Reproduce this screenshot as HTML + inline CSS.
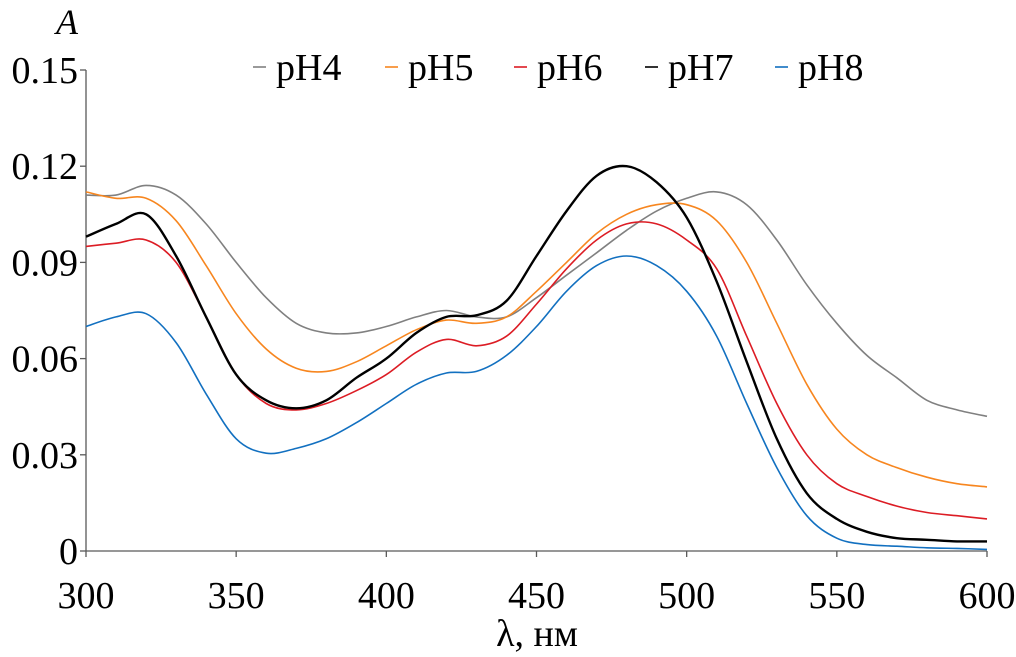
<!DOCTYPE html>
<html><head><meta charset="utf-8"><style>
html,body{margin:0;padding:0;background:#fff;width:1016px;height:657px;overflow:hidden}
svg text{font-family:"Liberation Serif","Times New Roman",Times,serif !important;fill:#000}
</style></head><body>
<svg id="chart" width="1016" height="657" viewBox="0 0 1016 657" xmlns="http://www.w3.org/2000/svg" font-family="Liberation Serif, serif"></svg>
<script>
const xTicks=[300,350,400,450,500,550,600];
const yTicks=[0,0.03,0.06,0.09,0.12,0.15];
const yTickLabels=["0","0.03","0.06","0.09","0.12","0.15"];
const seriesNames=["pH4","pH5","pH6","pH7","pH8"];
const seriesColors=["#808080","#f7861f","#dc1c24","#000000","#1270c0"];
const wl=[300,310,320,330,340,350,360,370,380,390,400,410,420,430,440,450,460,470,480,490,500,510,520,530,540,550,560,570,580,590,600];
const pH4=[0.111,0.111,0.114,0.111,0.102,0.090,0.079,0.071,0.068,0.068,0.070,0.073,0.075,0.073,0.073,0.079,0.086,0.093,0.100,0.106,0.110,0.112,0.108,0.097,0.083,0.071,0.061,0.054,0.047,0.044,0.042];
const pH5=[0.112,0.110,0.110,0.103,0.089,0.074,0.063,0.057,0.056,0.059,0.064,0.069,0.072,0.071,0.073,0.081,0.090,0.099,0.105,0.108,0.108,0.103,0.090,0.071,0.052,0.038,0.030,0.026,0.023,0.021,0.020];
const pH6=[0.095,0.096,0.097,0.090,0.073,0.055,0.046,0.044,0.046,0.050,0.055,0.062,0.066,0.064,0.067,0.077,0.088,0.097,0.102,0.102,0.097,0.088,0.067,0.046,0.030,0.021,0.017,0.014,0.012,0.011,0.010];
const pH7=[0.098,0.102,0.105,0.092,0.073,0.055,0.047,0.0445,0.047,0.054,0.060,0.068,0.073,0.0735,0.078,0.092,0.106,0.117,0.120,0.115,0.104,0.084,0.059,0.035,0.018,0.010,0.006,0.004,0.0035,0.003,0.003];
const pH8=[0.070,0.073,0.074,0.065,0.049,0.035,0.0305,0.032,0.035,0.040,0.046,0.052,0.0555,0.056,0.061,0.070,0.081,0.089,0.092,0.089,0.081,0.067,0.046,0.026,0.011,0.004,0.002,0.0015,0.001,0.0008,0.0005];
const allSeries=[pH4,pH5,pH6,pH7,pH8];

const X0=86,X1=987,Y0=551,Y1=70;
const FONT='Liberation Serif, Times New Roman, serif';
const xs=v=>X0+(v-300)/(600-300)*(X1-X0);
const ys=v=>Y0-(v-0)/(0.15-0)*(Y0-Y1);
const svg=document.getElementById('chart');
const NS="http://www.w3.org/2000/svg";
function mk(tag,attrs,parent){const e=document.createElementNS(NS,tag);for(const k in attrs)e.setAttribute(k,attrs[k]);if(tag==='text')e.setAttribute('font-family',FONT);(parent||svg).appendChild(e);return e;}

let ax=mk('line',{x1:X0,y1:Y1,x2:X0,y2:Y0,stroke:'#595959','stroke-width':1.3});


let axx=mk('line',{x1:X0,y1:Y0,x2:X1,y2:Y0,stroke:'#595959','stroke-width':1.3});


yTicks.forEach((t,i)=>{
  const y=ys(t);
  const tk=mk('line',{x1:X0-6,y1:y,x2:X0,y2:y,stroke:'#595959','stroke-width':1.3});
  
  
  const tx=mk('text',{x:X0-8,y:y+13,'text-anchor':'end','font-size':38});
  tx.textContent=yTickLabels[i];
  
  
});
xTicks.forEach(t=>{
  const x=xs(t);
  const tk=mk('line',{x1:x,y1:Y0,x2:x,y2:Y0+6,stroke:'#595959','stroke-width':1.3});
  
  
  const tx=mk('text',{x:x,y:Y0+57,'text-anchor':'middle','font-size':38});
  tx.textContent=String(t);
  
  
});
let yt=mk('text',{x:56,y:34,'font-size':36,'font-style':'italic'});
yt.textContent='A';


let xt=mk('text',{x:537,y:646,'text-anchor':'middle','font-size':38});
xt.textContent='λ, нм';



function pathFor(vals){
  const p=wl.map((w,i)=>[xs(w),ys(vals[i])]);
  let d='M'+p[0][0].toFixed(1)+','+p[0][1].toFixed(1);
  for(let i=0;i<p.length-1;i++){
    const a=p[Math.max(0,i-1)],b=p[i],c=p[i+1],e=p[Math.min(p.length-1,i+2)];
    const c1=[b[0]+(c[0]-a[0])/6,b[1]+(c[1]-a[1])/6];
    const c2=[c[0]-(e[0]-b[0])/6,c[1]-(e[1]-b[1])/6];
    d+=' C'+c1[0].toFixed(1)+','+c1[1].toFixed(1)+' '+c2[0].toFixed(1)+','+c2[1].toFixed(1)+' '+c[0].toFixed(1)+','+c[1].toFixed(1);
  }
  return d;
}
allSeries.forEach((s,i)=>{
  const pth=mk('path',{d:pathFor(s),fill:'none',stroke:seriesColors[i],'stroke-width':i==3?2.4:1.6});
  
  
});

const legX=[253,385,514,645,775];
seriesNames.forEach((n,i)=>{
  const g=mk('g',{});
  
  
  mk('line',{x1:legX[i],y1:67,x2:legX[i]+13,y2:67,stroke:seriesColors[i],'stroke-width':1.6},g);
  const t=mk('text',{x:legX[i]+23,y:80,'font-size':38},g);
  t.textContent=n;
});
</script>
</body></html>
